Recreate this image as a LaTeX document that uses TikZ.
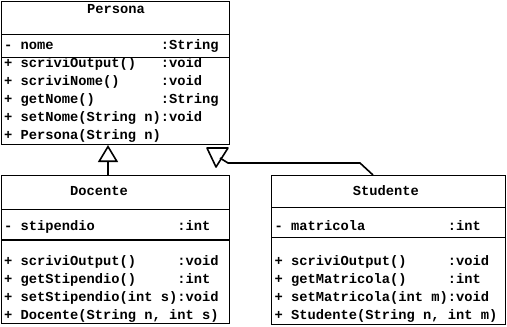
\documentclass[tikz,border=0pt]{standalone}
\usepackage{fontspec}
\newfontfamily\umlfont{Liberation Mono}
\usetikzlibrary{arrows.meta,positioning}
\tikzset{
  classbox/.style={draw,line width=1pt,inner sep=0pt,outer sep=0pt,anchor=north west},
  sep/.style={line width=1pt},
  classname/.style={font=\umlfont\bfseries\fontsize{13.75}{18}\selectfont,inner sep=0pt,anchor=base},
  members/.style={font=\umlfont\bfseries\fontsize{13.75}{#1}\selectfont,inner sep=0pt,anchor=base west},
  members/.default=18,
  isa/.style={line width=1.6pt,-{Triangle[open,length=17pt,width=20pt]}},
  isaline/.style={line width=1.6pt}
}

\begin{document}
\begin{tikzpicture}[x=1pt,y=-1pt]
  \useasboundingbox (0,0) rectangle (507,327);
  % class boxes
  \node[classbox,minimum width=228pt,minimum height=143pt] (persona) at (1,1) {};
  \node[classbox,minimum width=228pt,minimum height=148pt] (docente) at (1,175) {};
  \node[classbox,minimum width=234pt,minimum height=149pt] (studente) at (271,175) {};
  % compartments
  \draw[sep] ([yshift=-33pt]persona.north west) -- ([yshift=-33pt]persona.north east);
  \draw[sep] ([yshift=-56pt]persona.north west) -- ([yshift=-56pt]persona.north east);
  \draw[sep] ([yshift=-34pt]docente.north west) -- ([yshift=-34pt]docente.north east);
  \draw[line width=2pt] ([yshift=-65pt]docente.north west) -- ([yshift=-65pt]docente.north east);
  \draw[sep] ([yshift=-32pt]studente.north west) -- ([yshift=-32pt]studente.north east);
  \draw[sep] ([yshift=-62pt]studente.north west) -- ([yshift=-62pt]studente.north east);
  % names
  \node[classname] (persona-name) at (116,13.5) {Persona};
  \node[classname] (docente-name) at (99,195.5) {Docente};
  \node[classname] (studente-name) at (386,195.5) {Studente};
  % attributes and methods
  \node[members] (persona-body) at (4,49.5) {\begin{tabular}[t]{@{}l@{}l@{}}
    - nome & :String\\
    + scriviOutput() & :void\\
    + scriviNome() & :void\\
    + getNome() & :String\\
    + setNome(String n) & :void\\
    + Persona(String n) &
  \end{tabular}};
  \node[members=17.7] (docente-body) at (4,230.5) {\begin{tabular}[t]{@{}l@{}l@{}}
    - stipendio & :int\\
    & \\
    + scriviOutput() & :void\\
    + getStipendio() & :int\\
    + setStipendio(int s) & :void\\
    \multicolumn{2}{@{}l@{}}{+ Docente(String n, int s)}
  \end{tabular}};
  \node[members=17.7] (studente-body) at (274.5,230.5) {\begin{tabular}[t]{@{}l@{}l@{}}
    - matricola & :int\\
    & \\
    + scriviOutput() & :void\\
    + getMatricola() & :int\\
    + setMatricola(int m) & :void\\
    \multicolumn{2}{@{}l@{}}{+ Studente(String n, int m)}
  \end{tabular}};
  % generalisations
  \draw[isa] ([xshift=-7pt]docente.north) -- ([xshift=-7pt,yshift=-1pt]persona.south);
  \draw[isaline,line join=round] ([shift={(-22,4)}]persona.south east) -- ++(21,0) -- ++(-12,19) -- cycle;
  \coordinate (tri) at ([shift={(-9,14)}]persona.south east);
  \draw[isaline] ([xshift=-15pt]studente.north) -- ++(-13,-12) -- ++(-132,0) -- (tri);
\end{tikzpicture}
\end{document}
